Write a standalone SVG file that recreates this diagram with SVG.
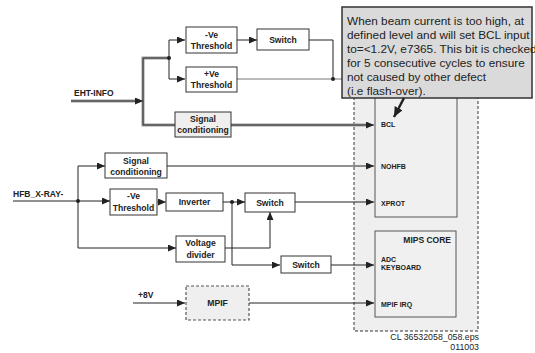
<svg xmlns="http://www.w3.org/2000/svg" width="535" height="353" viewBox="0 0 535 353">
<style>
.box{fill:#fff;stroke:#333;stroke-width:1}
.gbox{fill:#efefef;stroke:#333;stroke-width:1}
.lbl{font-family:"Liberation Sans",Arial,sans-serif;font-weight:bold;font-size:8.6px;fill:#222;text-anchor:middle}
.pin{font-family:"Liberation Sans",Arial,sans-serif;font-weight:bold;font-size:7px;fill:#222}
.sig{font-family:"Liberation Sans",Arial,sans-serif;font-weight:bold;font-size:8.5px;fill:#222}
.note{font-family:"Liberation Sans",Arial,sans-serif;font-size:11.8px;fill:#222}
.foot{font-family:"Liberation Sans",Arial,sans-serif;font-size:8.8px;fill:#222;text-anchor:end}
.ln{fill:none;stroke:#222;stroke-width:1}
.gl{fill:none;stroke:#777;stroke-width:1}
.th{fill:none;stroke:#999;stroke-width:3}
.thc{fill:none;stroke:#333;stroke-width:1}
.arr{marker-end:url(#ah)}
</style>
<defs>
<marker id="ah" viewBox="0 0 8 7" refX="8" refY="3.5" markerWidth="8" markerHeight="7" markerUnits="userSpaceOnUse" orient="auto">
<path d="M0,0 L8,3.5 L0,7 z" fill="#222"/>
</marker>
<marker id="ahb" viewBox="0 0 10 9" refX="10" refY="4.5" markerWidth="10" markerHeight="9" markerUnits="userSpaceOnUse" orient="auto">
<path d="M0,0 L10,4.5 L0,9 z" fill="#222"/>
</marker>
</defs>

<g id="mips-area">
<rect x="354" y="60" width="124" height="271" fill="#efefef" stroke="#333" stroke-width="1" stroke-dasharray="3,2"/>
</g>
<g id="io-block">
<rect x="375" y="70" width="82" height="147" fill="#f0f0f0" stroke="#555" stroke-width="1"/>
<text class="pin" x="381" y="127">BCL</text>
<text class="pin" x="381" y="169">NOHFB</text>
<text class="pin" x="381" y="206">XPROT</text>
</g>
<g id="mips-core">
<rect x="375" y="231" width="81" height="86" fill="#f0f0f0" stroke="#555" stroke-width="1"/>
<text x="451" y="243" style="font-family:'Liberation Sans',Arial,sans-serif;font-weight:bold;font-size:8.5px;fill:#222;text-anchor:end">MIPS CORE</text>
<text class="pin" x="381" y="262">ADC</text>
<text class="pin" x="381" y="270">KEYBOARD</text>
<text class="pin" x="381" y="307">MPIF IRQ</text>
</g>

<g id="connectors">
<path class="th" d="M71,101 H140"/>
<path class="th" d="M169,58 H143 V125 H175"/>
<path class="th" d="M231,125 H368"/>
<path class="thc arr" d="M71,101 H143"/>
<path class="thc" d="M169,58 H143 V125 H175"/>
<path class="thc arr" d="M231,125 H374"/>
<path class="ln" d="M169,40 V79"/>
<path class="ln arr" d="M169,40 H185"/>
<path class="ln arr" d="M169,79 H185"/>
<path class="ln arr" d="M237,40 H257"/>
<path class="ln" d="M309,40 H333 V79"/>
<path class="gl" d="M237,79 H346"/>
<path class="ln arr" d="M13,201 H110"/>
<path class="ln" d="M78,166 V248"/>
<path class="ln arr" d="M78,166 H105"/>
<path class="ln arr" d="M78,248 H176"/>
<path class="ln arr" d="M167,166 H374"/>
<path class="gl arr" d="M157,202 H166"/>
<path class="ln arr" d="M223,202 H245"/>
<path class="ln arr" d="M232,202 V265 H280"/>
<path class="ln arr" d="M225,248 H270 V212"/>
<path class="ln arr" d="M295,202 H374"/>
<path class="ln arr" d="M331,265 H374"/>
<path class="ln arr" d="M133,303 H185"/>
<path class="ln arr" d="M249,303 H374"/>
<circle cx="169" cy="58" r="2" fill="#222"/>
<circle cx="333" cy="79" r="2" fill="#222"/>
<circle cx="78" cy="201" r="2" fill="#222"/>
<circle cx="232" cy="202" r="2" fill="#222"/>
</g>

<g id="eht-info"><text class="sig" x="74" y="96">EHT-INFO</text></g>
<g id="neg-threshold-1">
<rect class="box" x="186" y="27" width="51" height="26"/>
<text class="lbl" x="211.5" y="38">-Ve</text>
<text class="lbl" x="211.5" y="49">Threshold</text>
</g>
<g id="pos-threshold">
<rect class="box" x="186" y="67" width="51" height="25"/>
<text class="lbl" x="211.5" y="77">+Ve</text>
<text class="lbl" x="211.5" y="88">Threshold</text>
</g>
<g id="switch-1">
<rect class="box" x="257" y="29" width="52" height="21"/>
<text class="lbl" x="283" y="42.5">Switch</text>
</g>
<g id="signal-cond-1">
<rect class="gbox" x="175" y="112" width="56" height="25"/>
<text class="lbl" x="203" y="122">Signal</text>
<text class="lbl" x="203" y="133">conditioning</text>
</g>

<g id="hfb-xray"><text class="sig" x="13" y="197">HFB_X-RAY-</text></g>
<g id="signal-cond-2">
<rect class="box" x="105" y="153" width="62" height="25"/>
<text class="lbl" x="136" y="164">Signal</text>
<text class="lbl" x="136" y="175">conditioning</text>
</g>
<g id="neg-threshold-2">
<rect class="box" x="110" y="189" width="47" height="26"/>
<text class="lbl" x="133.5" y="199">-Ve</text>
<text class="lbl" x="133.5" y="211">Threshold</text>
</g>
<g id="inverter">
<rect class="box" x="166" y="193" width="57" height="18"/>
<text class="lbl" x="194.5" y="205">Inverter</text>
</g>
<g id="switch-2">
<rect class="box" x="245" y="193" width="50" height="19"/>
<text class="lbl" x="270" y="205.5">Switch</text>
</g>
<g id="voltage-divider">
<rect class="box" x="176" y="236" width="49" height="26"/>
<text class="lbl" x="200.5" y="246">Voltage</text>
<text class="lbl" x="200.5" y="258">divider</text>
</g>
<g id="switch-3">
<rect class="box" x="281" y="256" width="50" height="17"/>
<text class="lbl" x="306" y="267.5">Switch</text>
</g>
<g id="plus8v"><text class="sig" x="138" y="298">+8V</text></g>
<g id="mpif">
<rect x="186" y="286" width="63" height="34" fill="#efefef" stroke="#555" stroke-width="1.2" stroke-dasharray="3,2"/>
<text class="lbl" x="217.5" y="306">MPIF</text>
</g>

<g id="note">
<rect x="342" y="7" width="190" height="91" fill="#dadada" stroke="#333" stroke-width="1.5"/>
<text class="note" x="347" y="25">When beam current is too high, at</text>
<text class="note" x="347" y="39">defined level and will set BCL input</text>
<text class="note" x="347" y="53">to=&lt;1.2V, e7365. This bit is checked</text>
<text class="note" x="347" y="67">for 5 consecutive cycles to ensure</text>
<text class="note" x="347" y="81">not caused by other defect</text>
<text class="note" x="347" y="95">(i.e flash-over).</text>
<path d="M404,98 L394,117" fill="none" stroke="#222" stroke-width="2.5" marker-end="url(#ahb)"/>
</g>

<g id="footer">
<text class="foot" x="479" y="340">CL 36532058_058.eps</text>
<text class="foot" x="479" y="350">011003</text>
</g>
</svg>
